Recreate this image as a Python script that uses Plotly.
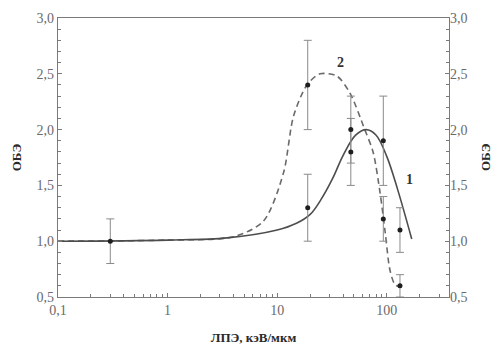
import plotly.graph_objects as go

# Measured points with error bars (LET in keV/um, RBE)
let_pts = [0.3, 19, 19, 47, 47, 93, 93, 132, 132]
rbe_pts = [1.0, 2.4, 1.3, 2.0, 1.8, 1.9, 1.2, 1.1, 0.6]
rbe_err = [0.2, 0.4, 0.3, 0.3, 0.3, 0.4, 0.2, 0.2, 0.1]

# Curve 1 (solid)
c1_x = [0.1, 1, 3.5, 10, 15, 20, 25, 32, 40, 52, 65, 80, 100, 126, 169]
c1_y = [1.0, 1.01, 1.03, 1.10, 1.16, 1.24, 1.37, 1.56, 1.77, 1.95, 2.0, 1.95, 1.76, 1.46, 1.02]

# Curve 2 (dashed)
c2_x = [0.1, 1, 4.0, 7.5, 11.4, 14.1, 18.7, 24.6, 35, 46, 63, 75, 87, 97, 107, 119, 132]
c2_y = [1.0, 1.01, 1.04, 1.18, 1.61, 2.12, 2.40, 2.50, 2.48, 2.33, 2.0, 1.80, 1.43, 1.07, 0.74, 0.61, 0.59]

x_tickvals = [0.1, 1, 10, 100]
x_ticktext = ["0,1", "1", "10", "100"]
y_tickvals = [0.5, 1.0, 1.5, 2.0, 2.5, 3.0]
y_ticktext = ["0,5", "1,0", "1,5", "2,0", "2,5", "3,0"]

# Log minor ticks: 2..9 within each decade
x_minor = [m * d for d in (0.1, 1, 10, 100) for m in range(2, 10) if m * d <= 360]

serif = "Liberation Serif, Times New Roman, serif"
axis_col = "#7a7a7a"
title_col = "#2a2a2a"

fig = go.Figure()

fig.add_trace(go.Scatter(
    x=c2_x, y=c2_y, mode="lines",
    line=dict(color="#6a6a6a", width=1.6, dash="6px,4px", shape="spline", smoothing=0.8),
    hoverinfo="skip"))

fig.add_trace(go.Scatter(
    x=c1_x, y=c1_y, mode="lines",
    line=dict(color="#4d4d4d", width=1.6, shape="spline", smoothing=1.0),
    hoverinfo="skip"))

fig.add_trace(go.Scatter(
    x=let_pts, y=rbe_pts, mode="markers",
    marker=dict(color="#1e1e1e", size=5),
    error_y=dict(type="data", array=rbe_err, visible=True,
                 color="#8a8a8a", thickness=1, width=4)))

# Curve labels (x given as log10 of LET on the log axis)
fig.add_annotation(x=1.574, y=2.60, xref="x", yref="y", text="<b>2</b>",
                   showarrow=False, font=dict(family=serif, size=14, color="#333333"))
fig.add_annotation(x=2.212, y=1.55, xref="x", yref="y", text="<b>1</b>",
                   showarrow=False, font=dict(family=serif, size=14, color="#333333"))

fig.update_layout(
    width=500, height=345,
    margin=dict(l=58, r=51, t=18, b=48),
    paper_bgcolor="white", plot_bgcolor="white",
    showlegend=False,
    font=dict(family=serif, size=14, color="#6a6a6a"),
    xaxis=dict(
        type="log", range=[-1, 2.568], automargin=False,
        tickvals=x_tickvals, ticktext=x_ticktext,
        ticks="inside", ticklen=4, tickcolor=axis_col,
        minor=dict(ticks="inside", ticklen=3, tickvals=x_minor, tickcolor=axis_col, showgrid=False),
        showgrid=False, zeroline=False,
        showline=True, linecolor=axis_col, linewidth=1.2, mirror=True,
        title=dict(text="<b>ЛПЭ, кэВ/мкм</b>", font=dict(family=serif, size=13, color=title_col),
                   standoff=15),
    ),
    yaxis=dict(
        range=[0.5, 3.0], automargin=False,
        tickvals=y_tickvals, ticktext=y_ticktext,
        ticks="inside", ticklen=4, tickcolor=axis_col,
        minor=dict(ticks="inside", ticklen=3, dtick=0.1, tickcolor=axis_col, showgrid=False),
        showgrid=False, zeroline=False,
        showline=True, linecolor=axis_col, linewidth=1.2, mirror=True,
        title=dict(text="<b>ОБЭ</b>", font=dict(family=serif, size=13, color=title_col),
                   standoff=12),
    ),
    yaxis2=dict(
        range=[0.5, 3.0], overlaying="y", side="right", anchor="x", automargin=False,
        tickvals=y_tickvals, ticktext=y_ticktext,
        ticks="inside", ticklen=4, tickcolor=axis_col,
        minor=dict(ticks="inside", ticklen=3, dtick=0.1, tickcolor=axis_col, showgrid=False),
        showgrid=False, zeroline=False, showline=False,
    ),
)

# Invisible trace so the right axis is drawn
fig.add_trace(go.Scatter(x=[0.1], y=[1.0], yaxis="y2", mode="markers",
                         marker=dict(opacity=0), hoverinfo="skip"))

fig.add_annotation(x=1.0, xref="paper", xshift=46, y=0.5, yref="paper",
                   text="<b>ОБЭ</b>", textangle=-90, showarrow=False,
                   font=dict(family=serif, size=13, color=title_col))

fig.write_html("out.html")
